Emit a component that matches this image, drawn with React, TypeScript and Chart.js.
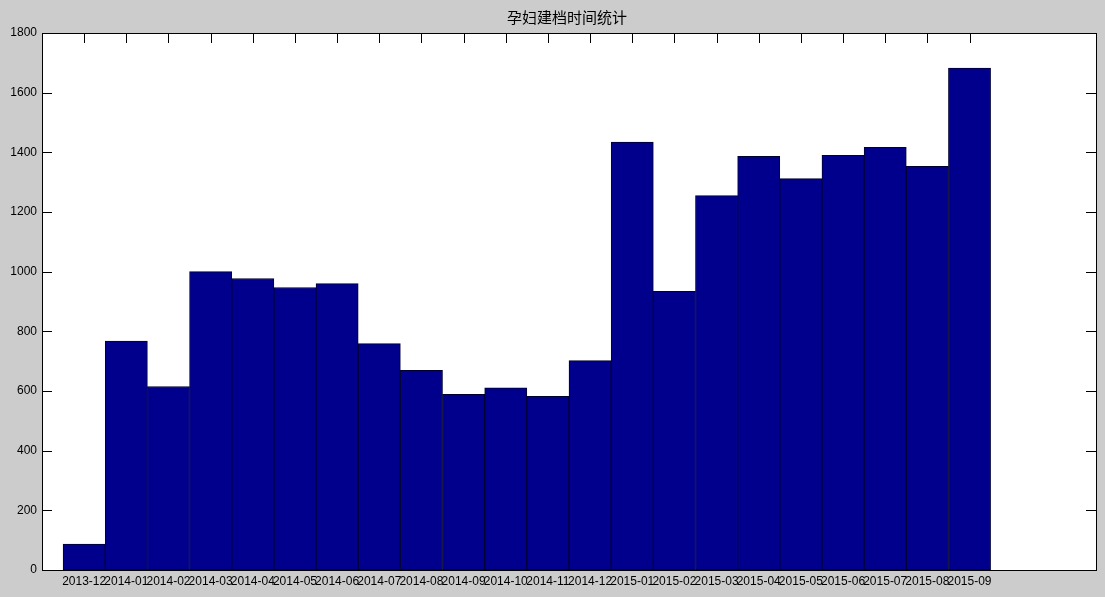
import React, { useEffect, useRef } from "react";
import { Chart, registerables } from "chart.js";

Chart.register(...registerables);

const TITLE = "孕妇建档时间统计";

const categories = [
  "2013-12", "2014-01", "2014-02", "2014-03", "2014-04", "2014-05",
  "2014-06", "2014-07", "2014-08", "2014-09", "2014-10", "2014-11",
  "2014-12", "2015-01", "2015-02", "2015-03", "2015-04", "2015-05",
  "2015-06", "2015-07", "2015-08", "2015-09",
];

const counts = [
  87, 767, 615, 1000, 977, 947, 960, 759, 669, 589, 611, 582,
  702, 1434, 934, 1255, 1387, 1312, 1390, 1417, 1353, 1682,
];

const yTicks = [0, 200, 400, 600, 800, 1000, 1200, 1400, 1600, 1800];

const X_MIN = -1;
const X_MAX = 24;

const axesPlugin = {
  id: "matlabAxes",
  beforeDatasetsDraw(chart: any) {
    const { ctx, chartArea: a, scales } = chart;
    const len = 10;
    ctx.save();
    ctx.strokeStyle = "#000";
    ctx.lineWidth = 1;
    ctx.beginPath();
    categories.forEach((_, i) => {
      const x = Math.round(scales.x.getPixelForValue(i)) + 0.5;
      ctx.moveTo(x, a.top);
      ctx.lineTo(x, a.top + len);
      ctx.moveTo(x, a.bottom);
      ctx.lineTo(x, a.bottom - len);
    });
    yTicks.forEach((v) => {
      const y = Math.round(scales.y.getPixelForValue(v)) + 0.5;
      ctx.moveTo(a.left, y);
      ctx.lineTo(a.left + len, y);
      ctx.moveTo(a.right, y);
      ctx.lineTo(a.right - len, y);
    });
    ctx.stroke();
    ctx.restore();
  },
  afterDatasetsDraw(chart: any) {
    const { ctx, chartArea: a } = chart;
    ctx.save();
    ctx.strokeStyle = "#000";
    ctx.lineWidth = 1;
    ctx.strokeRect(
      Math.round(a.left) + 0.5,
      Math.round(a.top) + 0.5,
      Math.round(a.right - a.left),
      Math.round(a.bottom - a.top)
    );
    ctx.fillStyle = "#000";
    ctx.font = '15px "Noto Sans CJK SC", sans-serif';
    ctx.textAlign = "center";
    ctx.textBaseline = "middle";
    ctx.fillText(TITLE, (a.left + a.right) / 2 - 2, 17);
    ctx.restore();
  },
};

const bgPlugin = {
  id: "bg",
  beforeDraw(chart: any) {
    const { ctx, width, height, chartArea: a } = chart;
    ctx.save();
    ctx.fillStyle = "#cccccc";
    ctx.fillRect(0, 0, width, height);
    ctx.fillStyle = "#ffffff";
    ctx.fillRect(a.left, a.top, a.right - a.left, a.bottom - a.top);
    ctx.restore();
  },
};

export default function App() {
  const ref = useRef<HTMLCanvasElement | null>(null);

  useEffect(() => {
    document.body.style.margin = "0";
    document.body.style.background = "#cccccc";
    if (!ref.current) return;
    const chart = new Chart(ref.current, {
      type: "bar",
      data: {
        datasets: [
          {
            data: counts.map((v, i) => ({ x: i, y: v })),
            backgroundColor: "#00008c",
            borderColor: "#000033",
            borderWidth: 1,
            borderSkipped: false,
            barPercentage: 1,
            categoryPercentage: 1,
          },
        ],
      },
      plugins: [bgPlugin, axesPlugin],
      options: {
        animation: false,
        responsive: false,
        maintainAspectRatio: false,
        layout: { padding: { top: 33, right: 9, left: 0, bottom: 0 } },
        plugins: {
          legend: { display: false },
          title: { display: false },
          tooltip: { enabled: false },
        },
        scales: {
          x: {
            type: "linear",
            min: X_MIN,
            max: X_MAX,
            offset: false,
            grid: { display: false, drawTicks: false },
            border: { display: false },
            afterBuildTicks: (scale: any) => {
              scale.ticks = categories.map((_, i) => ({ value: i }));
            },
            afterFit: (scale: any) => {
              scale.height = 27;
            },
            ticks: {
              autoSkip: false,
              maxRotation: 0,
              minRotation: 0,
              padding: 4,
              color: "#000",
              font: { family: '"Liberation Sans", Arial, sans-serif', size: 12 },
              callback: (v: any) => categories[v] ?? "",
            },
          },
          y: {
            type: "linear",
            min: 0,
            max: 1800,
            grid: { display: false, drawTicks: false },
            border: { display: false },
            afterBuildTicks: (scale: any) => {
              scale.ticks = yTicks.map((v) => ({ value: v }));
            },
            afterFit: (scale: any) => {
              scale.width = 42;
            },
            ticks: {
              padding: 5,
              color: "#000",
              font: { family: '"Liberation Sans", Arial, sans-serif', size: 12 },
              callback: (v: any) => String(v),
            },
          },
        },
      },
    });
    return () => chart.destroy();
  }, []);

  return (
    <div style={{ width: 1105, height: 597, background: "#cccccc" }}>
      <canvas ref={ref} width={1105} height={597} style={{ display: "block" }} />
    </div>
  );
}
